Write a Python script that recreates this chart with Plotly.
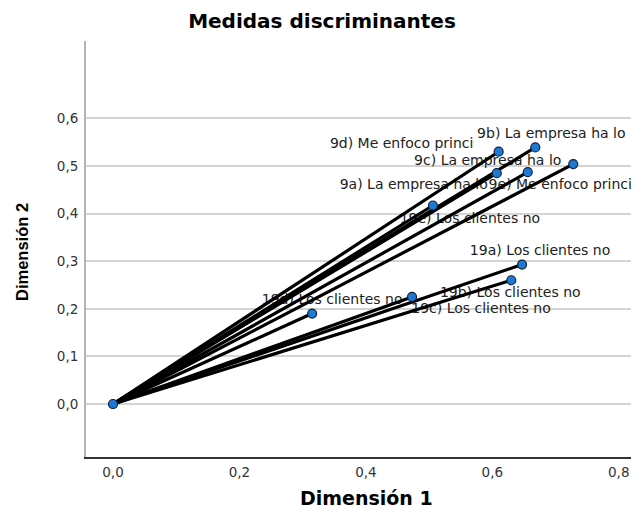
import plotly.graph_objects as go

# ---- data ----
labels = ["9d) Me enfoco princi", "9b) La empresa ha lo", "9a) La empresa ha lo",
          "9c) La empresa ha lo", "9e) Me enfoco princi", "19e) Los clientes no",
          "19c) Los clientes no", "19d) Los clientes no", "19a) Los clientes no",
          "19b) Los clientes no"]
dim1 = [0.610, 0.668, 0.607, 0.656, 0.728, 0.506, 0.473, 0.315, 0.647, 0.630]
dim2 = [0.530, 0.539, 0.485, 0.487, 0.504, 0.417, 0.225, 0.190, 0.293, 0.260]

x_ticks = [0.0, 0.2, 0.4, 0.6, 0.8]
y_ticks = [0.0, 0.1, 0.2, 0.3, 0.4, 0.5, 0.6]

# label offsets from their point, in pixels (right, down)
lab_dx = [-97, 16, -83, -40, -13, 37, 69, 20, 18, -1]
lab_dy = [-7, -13, 12, -11, 21, 14, 13, -13, -13, 13]

# ---- layout geometry (page has an 8px body margin) ----
OFF = 8
W, H = 639 - OFF, 512 - OFF
ML, MR, MT, MB = 86 - OFF, 0, 41 - OFF, H - (457 - OFF)
XR = [-0.0427, 0.832]
YR = [-0.1113, 0.7626]
PW, PH = W - ML - MR, H - MT - MB
px_x = PW / (XR[1] - XR[0])
px_y = PH / (YR[1] - YR[0])

# vectors from origin
lx, ly = [], []
for a, b in zip(dim1, dim2):
    lx += [0, a, None]
    ly += [0, b, None]

tx = [a + dx / px_x for a, dx in zip(dim1, lab_dx)]
ty = [b - dy / px_y for b, dy in zip(dim2, lab_dy)]

fig = go.Figure()
fig.add_trace(go.Scatter(x=tx, y=ty, mode="text", text=labels,
                         textposition="middle center",
                         textfont=dict(family="DejaVu Sans", size=14, color="#222222"),
                         hoverinfo="skip", cliponaxis=False, showlegend=False))
fig.add_trace(go.Scatter(x=lx, y=ly, mode="lines",
                         line=dict(color="black", width=3.2),
                         hoverinfo="skip", showlegend=False))
fig.add_trace(go.Scatter(x=[0] + dim1, y=[0] + dim2, mode="markers",
                         marker=dict(size=9, color="#1C7AD4",
                                     line=dict(color="#15203a", width=1.2)),
                         cliponaxis=False, showlegend=False))

def px_to_paper_x(px):
    return (px - OFF - ML) / PW

def px_to_paper_y(py):
    return (H - MB - (py - OFF)) / PH

fig.update_layout(
    width=W, height=H,
    margin=dict(l=ML, r=MR, t=MT, b=MB),
    paper_bgcolor="white", plot_bgcolor="white",
    separators=",.",
    title=dict(text="Medidas discriminantes", x=(322 - OFF) / W, xref="container",
               xanchor="center", y=1 - (21 - OFF) / H, yref="container", yanchor="middle",
               font=dict(family="DejaVu Sans", size=20, color="black", weight="bold")),
    xaxis=dict(range=XR, tickvals=x_ticks, tickformat=".1f", showgrid=False,
               zeroline=False, showline=True, linecolor="#333333", linewidth=1.5,
               ticks="", ticklabelstandoff=2,
               tickfont=dict(family="DejaVu Sans", size=13.5, color="#333333")),
    yaxis=dict(range=YR, tickvals=y_ticks, tickformat=".1f", showgrid=True,
               gridcolor="#d4d4d4", gridwidth=1.5, zeroline=False,
               showline=True, linecolor="#b4b4b4", linewidth=2,
               ticks="", ticklabelstandoff=3,
               tickfont=dict(family="DejaVu Sans", size=13.5, color="#333333")),
    annotations=[
        dict(text="Dimensión 1", xref="paper", yref="paper",
             x=px_to_paper_x(366.5), y=px_to_paper_y(498),
             xanchor="center", yanchor="middle", showarrow=False,
             font=dict(family="DejaVu Sans", size=19, color="black", weight="bold")),
        dict(text="Dimensión 2", xref="paper", yref="paper",
             x=px_to_paper_x(22), y=px_to_paper_y(252),
             xanchor="center", yanchor="middle", showarrow=False, textangle=-90,
             font=dict(family="Liberation Sans", size=16.5,
                       color="black", weight="bold")),
    ],
)

fig.write_html("out.html")
